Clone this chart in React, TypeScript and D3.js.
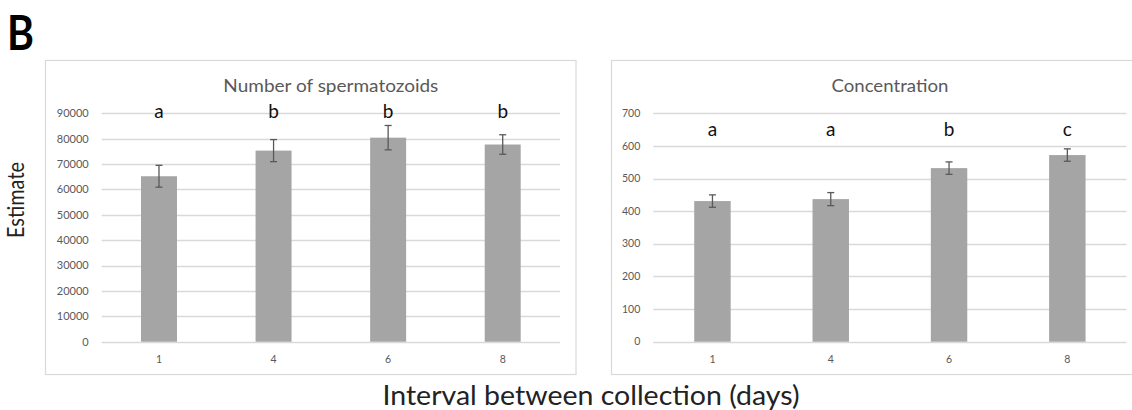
import React from "react";
import * as d3 from "d3";

const days = ["1", "4", "6", "8"];
const spermValues = [65200, 75300, 80400, 77700];
const spermErrors = [4300, 4350, 4800, 3850];
const spermLetters = ["a", "b", "b", "b"];
const spermTicks = [0, 10000, 20000, 30000, 40000, 50000, 60000, 70000, 80000, 90000];

const concValues = [431, 437, 532, 572];
const concErrors = [19, 20, 19, 19];
const concLetters = ["a", "a", "b", "c"];
const concTicks = [0, 100, 200, 300, 400, 500, 600, 700];

const FONT = "Lato, 'Open Sans', sans-serif";
const GRID = "#d9d9d9";
const TEXT = "#595959";

type PanelProps = {
  title: string;
  titleWidth: number;
  values: number[];
  errors: number[];
  letters: string[];
  ticks: number[];
  yMax: number;
  letterLevel: number;
  box: [number, number, number, number];
  plotX: [number, number];
  plotY: [number, number];
  barFrac: number;
  tickFont: number;
};

function Panel(p: PanelProps) {
  const x = d3.scaleBand<string>().domain(days).range(p.plotX).padding(0);
  const y = d3.scaleLinear().domain([0, p.yMax]).range(p.plotY);
  const bw = x.bandwidth() * p.barFrac;
  const [bx0, by0, bx1, by1] = p.box;
  const cx = (p.plotX[0] + p.plotX[1]) / 2;
  return (
    <g>
      <rect x={bx0} y={by0} width={bx1 - bx0} height={by1 - by0} fill="#fff" stroke={GRID} strokeWidth={1.2} />
      <text x={cx} y={by0 + 31} textAnchor="middle" fontFamily={FONT} fontSize={18} fill={TEXT}
        textLength={p.titleWidth} lengthAdjust="spacingAndGlyphs">{p.title}</text>
      {p.ticks.map((t) => (
        <g key={t}>
          <line x1={p.plotX[0]} x2={p.plotX[1]} y1={Math.round(y(t)) + 0.5} y2={Math.round(y(t)) + 0.5} stroke={GRID} strokeWidth={1.3} />
          <text x={p.plotX[0] - 13} y={y(t)} dy="0.35em" textAnchor="end" fontFamily={FONT} fontSize={p.tickFont} fill={TEXT}>{t}</text>
        </g>
      ))}
      {days.map((d, i) => {
        const xc = (x(d) as number) + x.bandwidth() / 2;
        const v = p.values[i];
        const e = p.errors[i];
        return (
          <g key={d}>
            <rect x={xc - bw / 2} y={y(v)} width={bw} height={y(0) - y(v)} fill="#a5a5a5" />
            <line x1={xc} x2={xc} y1={y(v + e)} y2={y(v - e)} stroke={TEXT} strokeWidth={1.3} />
            <line x1={xc - 3.5} x2={xc + 3.5} y1={y(v + e)} y2={y(v + e)} stroke={TEXT} strokeWidth={1.3} />
            <line x1={xc - 3.5} x2={xc + 3.5} y1={y(v - e)} y2={y(v - e)} stroke={TEXT} strokeWidth={1.3} />
            <text x={xc} y={y(p.letterLevel)} textAnchor="middle" fontFamily={FONT} fontSize={19} fill="#111">{p.letters[i]}</text>
            <text x={xc} y={y(0) + 18} dy="0.35em" textAnchor="middle" fontFamily={FONT} fontSize={10.5} fill={TEXT}>{d}</text>
          </g>
        );
      })}
    </g>
  );
}

export default function App() {
  return (
    <svg width={1132} height={410} style={{ position: "absolute", left: 0, top: 0, background: "#fff" }}>
      <rect width={1132} height={410} fill="#fff" />
      <text x={7} y={50} fontFamily={FONT} fontWeight="bold" fontSize={48} fill="#000" textLength={27} lengthAdjust="spacingAndGlyphs">B</text>
      <text transform="translate(24,200) rotate(-90)" textAnchor="middle" fontFamily={FONT} fontSize={24} fill="#222"
        textLength={76} lengthAdjust="spacingAndGlyphs">Estimate</text>
      <Panel
        title="Number of spermatozoids"
        titleWidth={215}
        values={spermValues}
        errors={spermErrors}
        letters={spermLetters}
        ticks={spermTicks}
        yMax={90000}
        letterLevel={88300}
        box={[45.5, 60.5, 576, 374.5]}
        plotX={[101.7, 560]}
        plotY={[341.7, 113.3]}
        barFrac={0.314}
        tickFont={11}
      />
      <Panel
        title="Concentration"
        titleWidth={117}
        values={concValues}
        errors={concErrors}
        letters={concLetters}
        ticks={concTicks}
        yMax={700}
        letterLevel={631}
        box={[611.5, 60.5, 1140, 374.5]}
        plotX={[653.3, 1126.5]}
        plotY={[341.7, 113.3]}
        barFrac={0.308}
        tickFont={10.5}
      />
      <text x={591} y={405} textAnchor="middle" fontFamily={FONT} fontSize={26} fill="#222"
        textLength={417} lengthAdjust="spacingAndGlyphs">Interval between collection (days)</text>
    </svg>
  );
}
